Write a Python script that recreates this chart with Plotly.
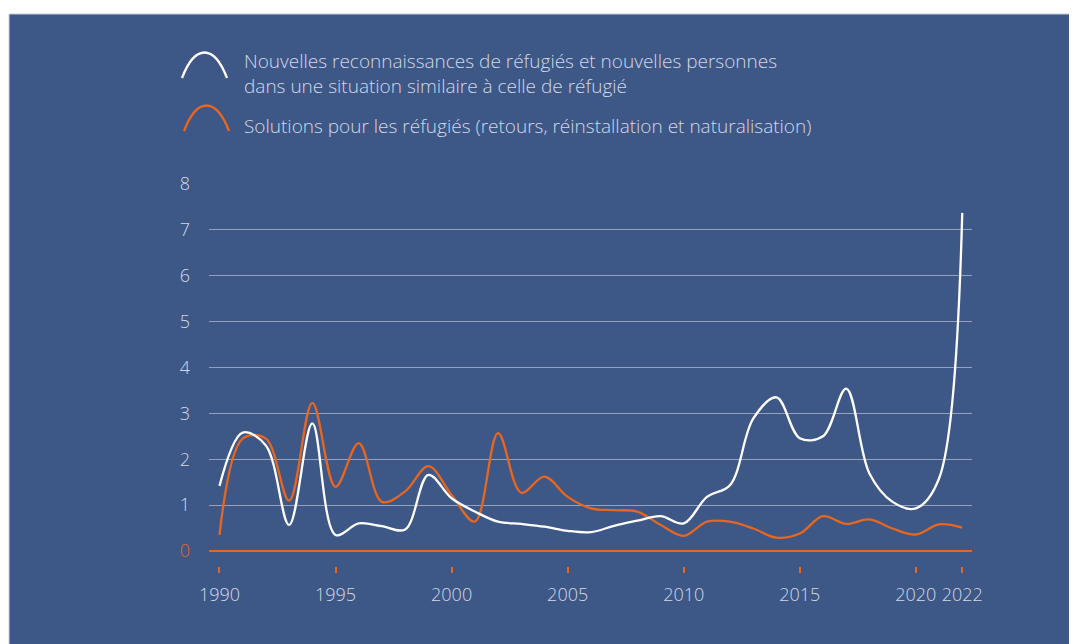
import plotly.graph_objects as go

years = list(range(1990, 2023))

# millions
new_recognitions = [1.42, 2.58, 2.30, 0.57, 2.78, 0.35, 0.60, 0.54, 0.47, 1.66,
                    1.15, 0.86, 0.64, 0.59, 0.53, 0.44, 0.41, 0.55, 0.66, 0.76,
                    0.60, 1.18, 1.44, 2.89, 3.35, 2.46, 2.50, 3.54, 1.69, 1.07,
                    0.93, 1.58, 7.37]
solutions = [0.35, 2.45, 2.45, 1.10, 3.23, 1.40, 2.35, 1.07, 1.30, 1.85,
             1.22, 0.64, 2.57, 1.27, 1.62, 1.18, 0.93, 0.89, 0.86, 0.57,
             0.33, 0.64, 0.64, 0.49, 0.29, 0.38, 0.76, 0.59, 0.69, 0.49,
             0.36, 0.58, 0.51]

x_ticks = [1990, 1995, 2000, 2005, 2010, 2015, 2020, 2022]
y_ticks = [0, 1, 2, 3, 4, 5, 6, 7, 8]

legend_white = "Nouvelles reconnaissances de réfugiés et nouvelles personnes<br>dans une situation similaire à celle de réfugié"
legend_orange = "Solutions pour les réfugiés (retours, réinstallation et naturalisation)"

BG = "#3d5787"
ORANGE = "#e8661e"
TXT = "#d3d9e6"
FONT = "Open Sans"

# page body has an 8px margin, so the figure is shifted by -8px
OFF = 8
W, H = 1077 - OFF, 644 - OFF
L, T = 209 - OFF, 184 - OFF
PW, PH = 763, 382
R, B = W - L - PW, H - T - PH


def px(x):
    # x in reference-picture pixels
    return (x - OFF - L) / PW


def py(y):
    return (T + PH - (y - OFF)) / PH


fig = go.Figure()
fig.add_trace(go.Scatter(x=years, y=solutions, mode="lines",
                         line=dict(color=ORANGE, width=2.3, shape="spline", smoothing=1.0),
                         hoverinfo="x+y"))
fig.add_trace(go.Scatter(x=years, y=new_recognitions, mode="lines",
                         line=dict(color="white", width=2.3, shape="spline", smoothing=1.0),
                         hoverinfo="x+y"))

shapes = [
    # blue panel
    dict(type="rect", xref="paper", yref="paper", x0=px(9), x1=px(1090), y0=py(660), y1=py(14),
         fillcolor=BG, line=dict(color="#c9ced9", width=1), layer="below"),
]


def arc(x0, y0, color):
    return dict(type="path", xref="paper", yref="paper",
                path=f"M {px(x0)},{py(y0)} C {px(x0 + 13)},{py(y0 - 34)} {px(x0 + 32)},{py(y0 - 34)} {px(x0 + 45)},{py(y0)}",
                line=dict(color=color, width=2.3))


shapes.append(arc(182, 78, "white"))
shapes.append(arc(184, 131, ORANGE))

legend_font = dict(family=FONT, size=19, color=TXT, weight=300)
annotations = [
    dict(xref="paper", yref="paper", x=px(242), y=py(73), text=legend_white, showarrow=False,
         xanchor="left", yanchor="middle", align="left", font=legend_font),
    dict(xref="paper", yref="paper", x=px(242), y=py(126), text=legend_orange, showarrow=False,
         xanchor="left", yanchor="middle", align="left", font=legend_font),
]

fig.update_layout(
    width=W, height=H,
    margin=dict(l=L, r=R, t=T, b=B),
    paper_bgcolor="white",
    plot_bgcolor="rgba(0,0,0,0)",
    showlegend=False,
    shapes=shapes,
    annotations=annotations,
    font=dict(family=FONT, size=18, color=TXT),
)

fig.update_xaxes(
    range=[1989.548, 2022.42],
    tickvals=x_ticks, ticktext=[str(v) for v in x_ticks],
    showgrid=False, zeroline=False, showline=False,
    ticks="outside", ticklen=6, tickwidth=1.5, tickcolor=ORANGE,
    ticklabelstandoff=6,
    tickfont=dict(family=FONT, size=18, color=TXT, weight=300),
)
fig.update_yaxes(
    range=[-0.327, 8],
    tickvals=y_ticks,
    ticktext=[f"<span style='color:{ORANGE}'>0</span>"] + [str(v) for v in y_ticks[1:]],
    showgrid=True, gridcolor="rgba(255,255,255,0.45)", gridwidth=1,
    zeroline=True, zerolinecolor=ORANGE, zerolinewidth=1.5,
    showline=False, ticks="", ticklabelstandoff=18,
    tickfont=dict(family=FONT, size=18, color=TXT, weight=300),
)

fig.write_html("out.html")
